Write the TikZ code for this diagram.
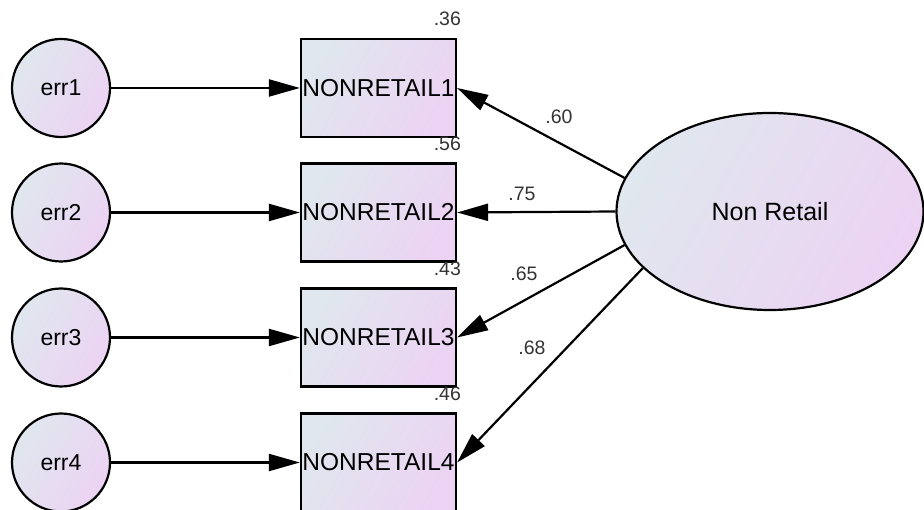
\documentclass[tikz,border=0pt]{standalone}
\usepackage{fontspec}
\setmainfont{Liberation Sans}
\usetikzlibrary{arrows.meta,shapes.geometric}
\definecolor{shadeA}{RGB}{224,231,238}
\definecolor{shadeB}{RGB}{236,211,243}
\begin{document}
\begin{tikzpicture}[x=1pt,y=-1pt,
  gradfill/.style={left color=shadeA, right color=shadeB, shading angle=60},
  errc/.style={circle, draw, line width=2.2pt, gradfill, minimum size=98pt,
    inner sep=0pt, font=\fontsize{23}{24}\selectfont},
  obs/.style={rectangle, draw, line width=2.2pt, gradfill, minimum width=155pt,
    minimum height=98pt, inner sep=0pt, font=\fontsize{24.5}{25}\selectfont},
  lat/.style={ellipse, draw, line width=2.2pt, gradfill, minimum width=307pt,
    minimum height=197pt, inner sep=0pt, font=\fontsize{25}{26}\selectfont},
  path/.style={line width=2.2pt, -{Triangle[length=31pt,width=17pt]}},
  coef/.style={inner sep=0pt, font=\fontsize{19.5}{20}\selectfont, text=black!80}]
\useasboundingbox (0,0) rectangle (924,510);

% error terms
\node[errc] (e1) at (61,88)  {err1};
\node[errc] (e2) at (61,212.5) {err2};
\node[errc] (e3) at (61,337.5) {err3};
\node[errc] (e4) at (61,462.5) {err4};

% observed indicators
\node[obs] (v1) at (378.5,88)  {NONRETAIL1};
\node[obs] (v2) at (378.5,212.5) {NONRETAIL2};
\node[obs] (v3) at (378.5,337.5) {NONRETAIL3};
\node[obs] (v4) at (378.5,462.5) {NONRETAIL4};

% latent factor
\node[lat] (nr) at (770,211.5) {Non Retail};

% squared multiple correlations
\node[coef, anchor=base east] (r1) at ([xshift=4pt,yshift=12pt]v1.north east) {.36};
\node[coef, anchor=base east] (r2) at ([xshift=4pt,yshift=12pt]v2.north east) {.56};
\node[coef, anchor=base east] (r3) at ([xshift=4pt,yshift=12pt]v3.north east) {.43};
\node[coef, anchor=base east] (r4) at ([xshift=4pt,yshift=12pt]v4.north east) {.46};

% error paths
\draw[path] (e1) -- (v1);
\draw[path] (e2) -- (v2);
\draw[path] (e3) -- (v3);
\draw[path] (e4) -- (v4);

% factor loadings
\draw[path] (nr.167) -- (v1.east);
\draw[path] (nr.180) -- (v2.east);
\draw[path] (nr.193) -- (v3.east);
\draw[path] (nr.204) -- (v4.east);

\node[coef] (l1) at (559,117) {.60};
\node[coef] (l2) at (522,194) {.75};
\node[coef] (l3) at (524,274) {.65};
\node[coef] (l4) at (532,348) {.68};
\end{tikzpicture}
\end{document}
